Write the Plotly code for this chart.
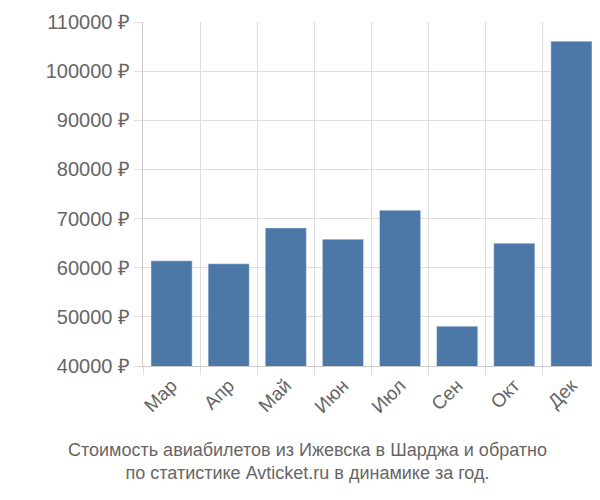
import plotly.graph_objects as go

months = ["Мар", "Апр", "Май", "Июн", "Июл", "Сен", "Окт", "Дек"]
prices = [61400, 60800, 68100, 65800, 71700, 48100, 65000, 106100]
yticks = [40000, 50000, 60000, 70000, 80000, 90000, 100000, 110000]
ytext = [f"{v} ₽" for v in yticks]

fig = go.Figure(go.Bar(x=months, y=prices, marker_color="#4c78a8", width=0.72))
fig.update_layout(
    width=600, height=500, plot_bgcolor="white", paper_bgcolor="white",
    margin=dict(l=135, r=8, t=14, b=142, autoexpand=False), showlegend=False,
    font=dict(family="Liberation Sans, Arial", color="#666"),
)
fig.update_xaxes(tickson="boundaries", showgrid=True, gridcolor="#ddd",
                 ticks="outside", ticklen=8, tickcolor="#ddd", tickangle=-45,
                 tickfont=dict(size=19), showline=True, linecolor="#ccc", automargin=False)
fig.update_yaxes(range=[40000, 110000], tickvals=yticks, ticktext=ytext,
                 showgrid=True, gridcolor="#ddd", ticks="outside", ticklen=8,
                 tickcolor="#ddd", tickfont=dict(size=20), showline=True, linecolor="#ccc",
                 automargin=False)
fig.add_annotation(text="Стоимость авиабилетов из Ижевска в Шарджа и обратно<br>по статистике Avticket.ru в динамике за год.",
                   xref="paper", yref="paper", x=0.36, y=0, yshift=-72, showarrow=False,
                   xanchor="center", yanchor="top", font=dict(size=18, color="#666"))
fig.write_html("out.html")
